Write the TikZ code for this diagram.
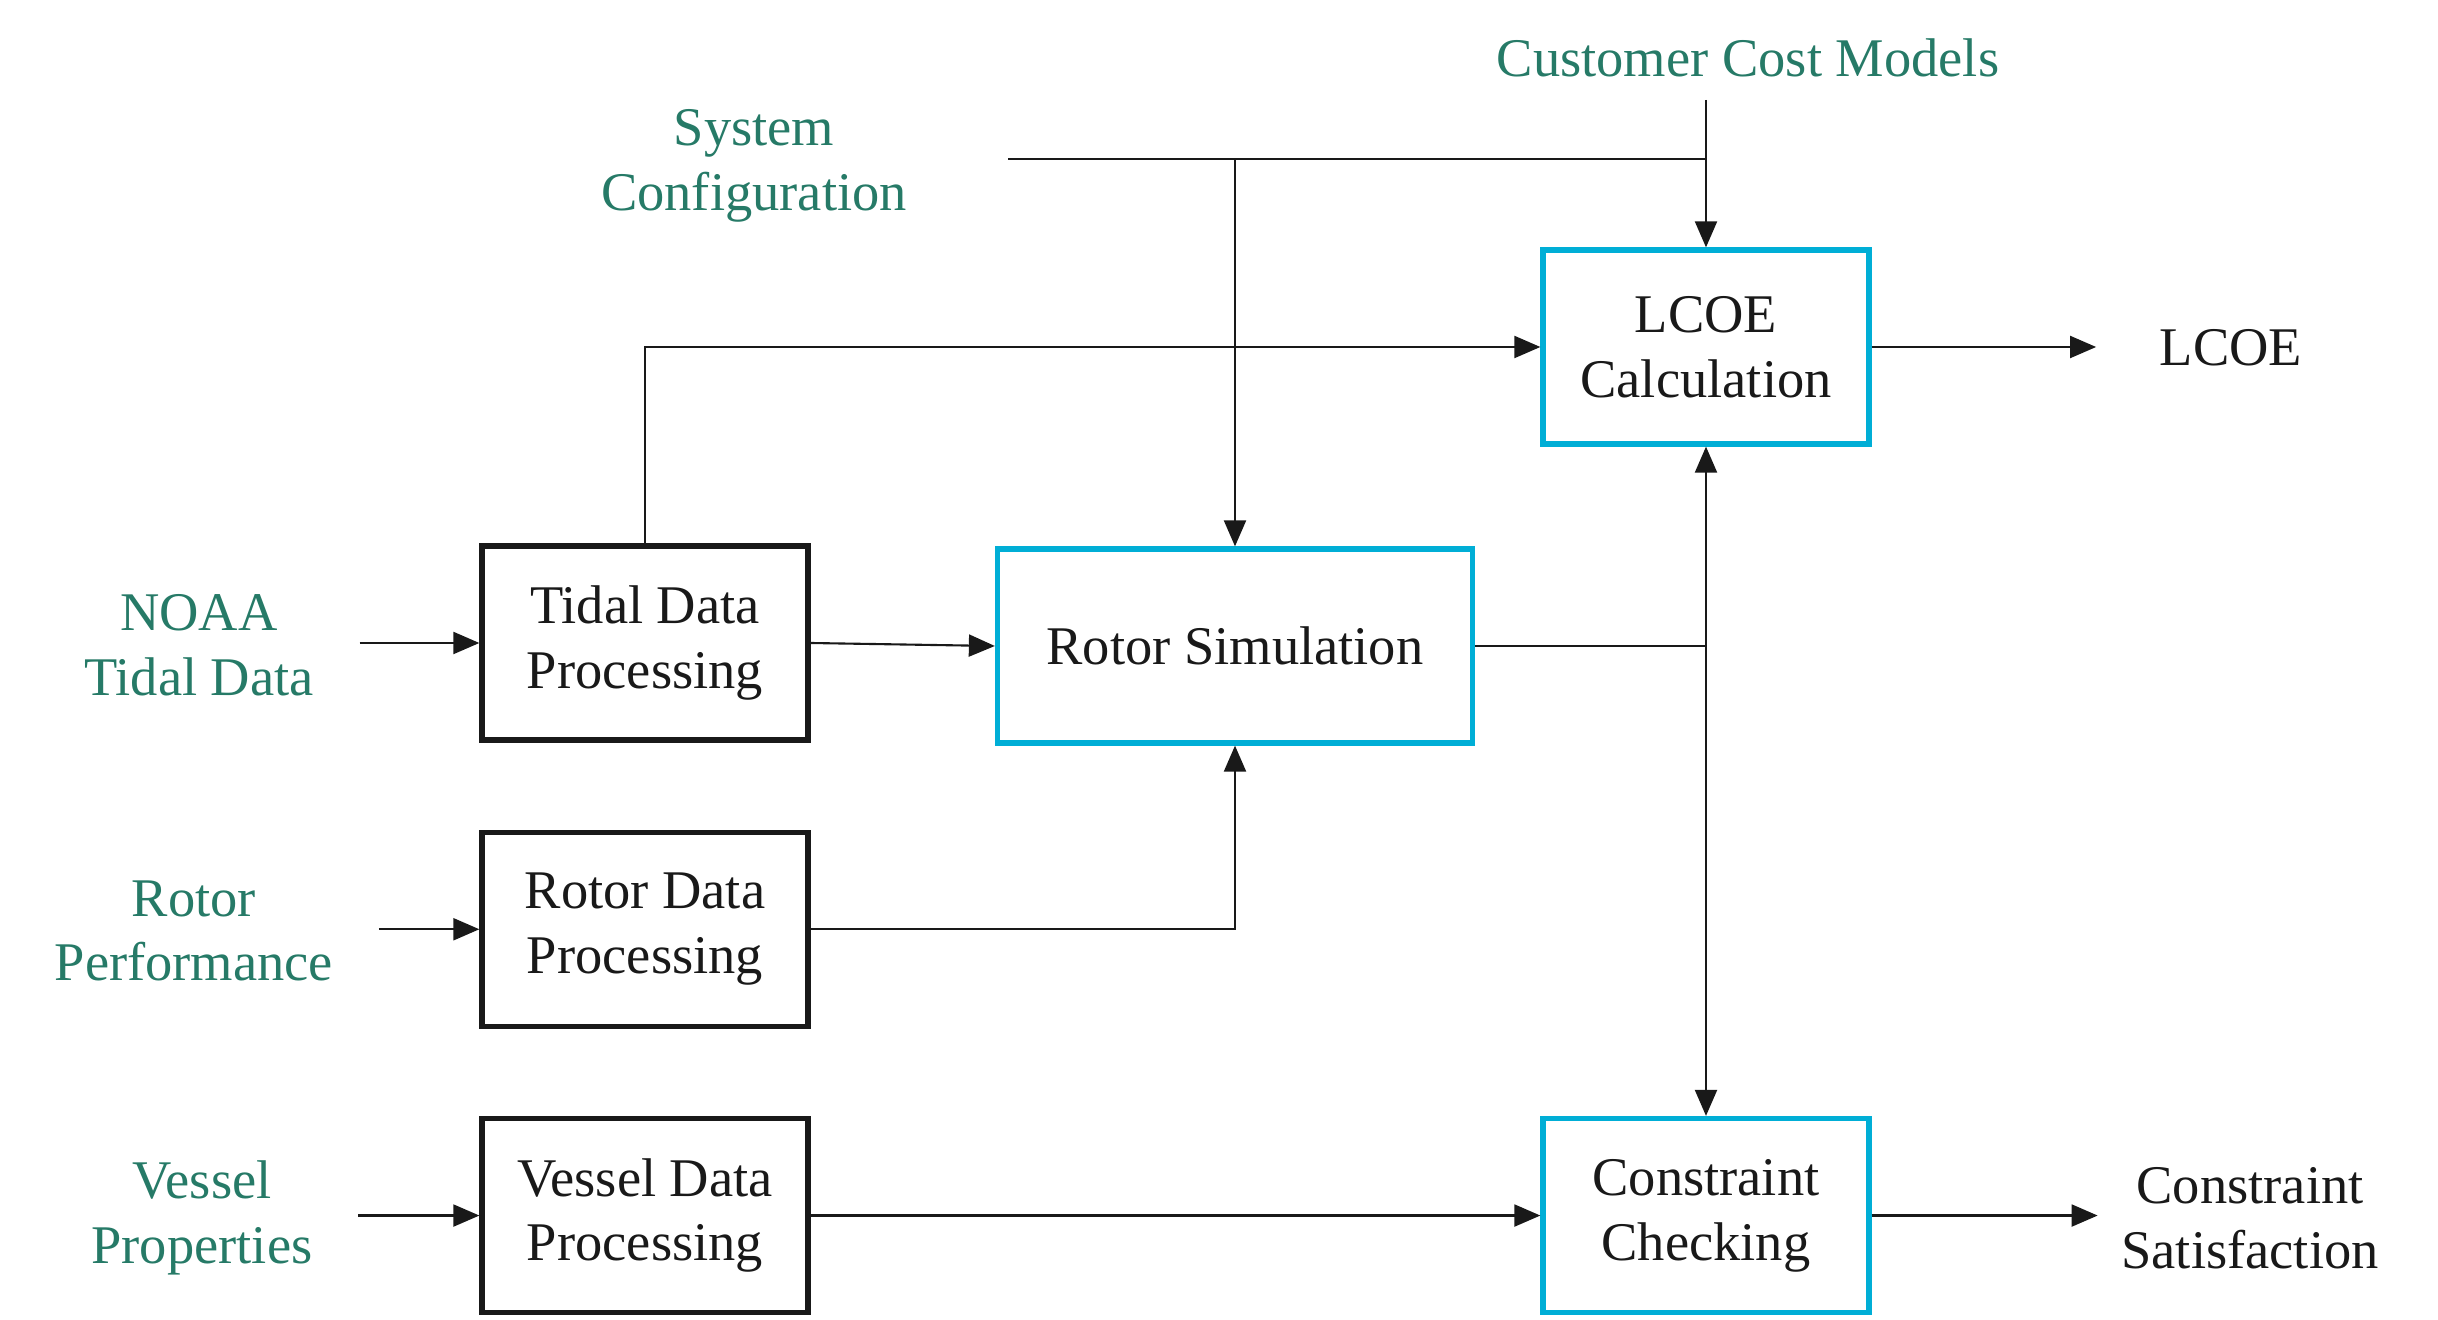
\documentclass[tikz,border=0pt]{standalone}
\usepackage{fontspec}
\setmainfont{Liberation Serif}
\usepackage{tikz}
\usetikzlibrary{arrows.meta, positioning}

\definecolor{srcgreen}{RGB}{38,122,103}
\definecolor{simblue}{RGB}{0,174,214}

\begin{document}
\begin{tikzpicture}[>={Triangle[length=.26cm, width=.22cm]}, color=black!90,
    font=\fontsize{15.5}{18.4}\selectfont, line width=.6pt]
  \tikzset{
    proc/.style={
      rectangle,
      draw,
      line width=1.5pt,
      minimum width=3.26cm,
      minimum height=1.94cm,
      align=center},
    calc/.style={
      proc,
      draw=simblue},
    src/.style={
      text=srcgreen,
      align=center},
    outp/.style={
      align=center},
    feed/.style={
      ->,
      shorten <=.33cm}}

  \useasboundingbox (0,0) rectangle (24.38,-13.20);

  \node[proc] (tidal) at (6.45,-6.43) {Tidal Data\\Processing};
  \node[proc] (rotdata) [below=.87cm of tidal] {Rotor Data\\Processing};
  \node[proc] (vessel) [below=.87cm of rotdata] {Vessel Data\\Processing};

  \node[calc, minimum width=4.75cm] (rotsim) at (12.35,-6.46) {Rotor Simulation};
  \node[calc] (lcoe) at (17.06,-3.47) {LCOE\\Calculation};
  \node[calc] (constr) at (lcoe |- vessel) {Constraint\\Checking};

  \node[src] (noaa) at (1.99,-6.45) {NOAA\\Tidal Data};
  \node[src] (perf) at (1.94,-9.31) {Rotor\\Performance};
  \node[src] (vprops) at (2.02,-12.18) {Vessel\\Properties};
  \node[src] (syscfg) at (7.54,-1.66) {System\\Configuration};
  \node[src] (costs) at (17.48,-0.58) {Customer Cost Models};

  \node[outp] (lcoeres) at (22.31,-3.48) {LCOE};
  \node[outp] (satis) at (22.50,-12.18) {Constraint\\Satisfaction};

  % inputs
  \draw[feed] (noaa.east |- tidal) -- (tidal.west);
  \draw[feed] (perf.east |- rotdata) -- (rotdata.west);
  \draw[feed] (vprops.east |- vessel) -- (vessel.west);

  % configuration and cost models
  \coordinate (cfgtap) at (10.08,-1.59);
  \draw (cfgtap) -- (lcoe.north |- cfgtap);
  \draw[->] (rotsim.north |- cfgtap) -- (rotsim.north);
  \draw[->, shorten <=.1cm] (lcoe.north |- costs.south) -- (lcoe.north);

  \draw[->] (tidal.north) |- (lcoe.west);
  \draw[->] (tidal.east) -- (rotsim.west);
  \draw[->] (rotdata.east) -| (rotsim.south);
  \draw (rotsim.east) -- (lcoe.south |- rotsim.east);
  \draw[<->] (lcoe.south) -- (constr.north);
  \draw[->] (vessel.east) -- (constr.west);

  % outputs
  \draw[->, shorten >=.51cm] (lcoe.east) -- (lcoeres.west |- lcoe);
  \draw[->, shorten >=.11cm] (constr.east) -- (satis.west |- constr);

\end{tikzpicture}
\end{document}
